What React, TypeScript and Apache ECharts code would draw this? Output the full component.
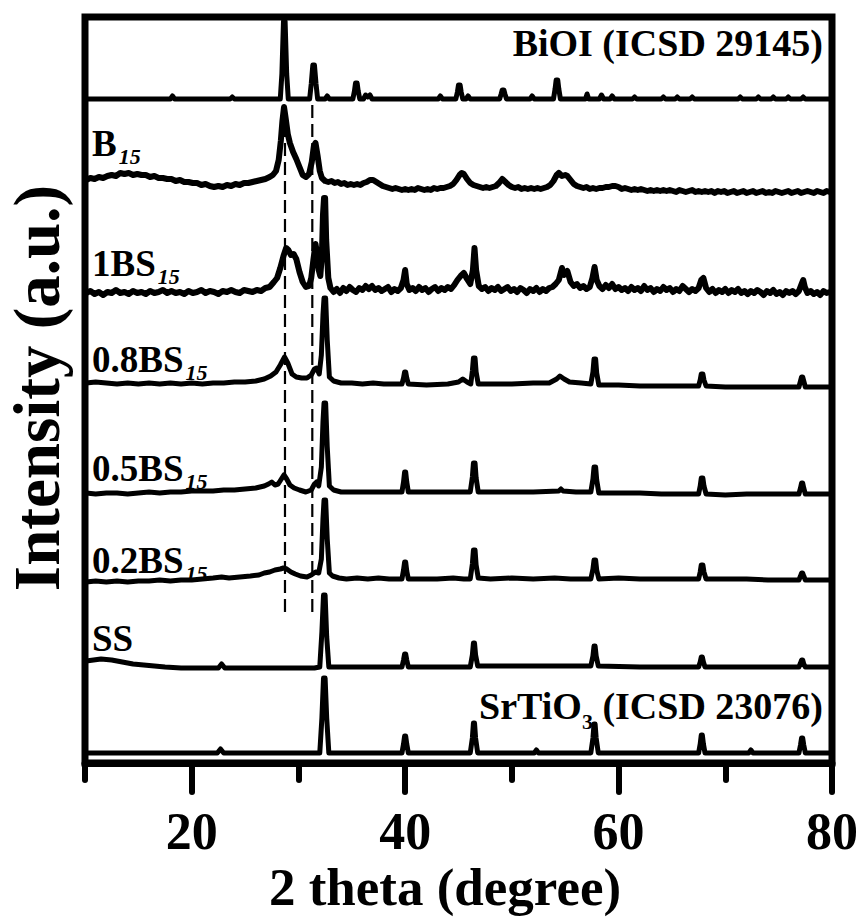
import { useEffect, useRef } from 'react';
import * as echarts from 'echarts';

// ---- axis ----
const X_MIN = 10;
const X_MAX = 80;
const MAJOR_TICKS = [20, 40, 60, 80];

// ---- stacking offsets (a.u.) of each pattern's baseline ----
const OFFSET_BIOI = 664;
const OFFSET_B15 = 577;
const OFFSET_1BS = 473;
const OFFSET_08BS = 378;
const OFFSET_05BS = 271;
const OFFSET_02BS = 184;
const OFFSET_SS = 96;
const OFFSET_SRTIO3 = 10;

// ---- patterns: [2theta, intensity relative to own baseline] ----
const BIOI_REF = [
  [10, 0], [18.0, 0], [18.2, 3], [18.4, 0], [23.6, 0], [23.8, 2], [24.0, 0],
  [28.3, 0], [28.45, 25], [28.6, 78], [28.75, 78], [28.9, 25], [29.05, 0],
  [31.05, 0], [31.2, 15], [31.35, 34], [31.5, 34], [31.65, 15], [31.8, 0],
  [32.5, 0], [32.7, 3], [32.9, 0],
  [35.1, 0], [35.25, 8], [35.35, 16], [35.5, 16], [35.6, 8], [35.75, 0],
  [36.1, 0], [36.3, 4], [36.5, 2], [36.7, 4], [36.9, 0],
  [43.1, 0], [43.3, 3], [43.5, 0],
  [44.75, 0], [44.9, 7], [45.0, 14], [45.15, 14], [45.25, 7], [45.4, 0],
  [45.7, 0], [45.9, 3], [46.1, 0],
  [48.85, 0], [49.0, 5], [49.1, 9], [49.25, 9], [49.35, 5], [49.5, 0],
  [51.7, 0], [51.9, 3], [52.1, 0],
  [53.9, 0], [54.05, 10], [54.15, 19], [54.3, 19], [54.4, 10], [54.55, 0],
  [56.9, 0], [57.05, 5], [57.2, 0], [58.2, 0], [58.4, 4], [58.6, 0],
  [59.2, 0], [59.4, 3], [59.6, 0], [61.3, 0], [61.5, 2], [61.7, 0],
  [64.0, 0], [64.2, 2], [64.4, 0], [65.3, 0], [65.5, 2], [65.7, 0],
  [66.7, 0], [66.9, 2], [67.1, 0], [71.2, 0], [71.4, 2], [71.6, 0],
  [72.9, 0], [73.1, 2], [73.3, 0], [74.3, 0], [74.5, 2], [74.7, 0],
  [75.7, 0], [75.9, 2], [76.1, 0], [77.1, 0], [77.3, 2], [77.5, 0], [80, 0],
];

const B15 = [
  [10.1, 6], [10.5, 8], [10.9, 7], [11.3, 9], [11.7, 8], [12.1, 10], [12.5, 11], [12.9, 10],
  [13.3, 13], [13.7, 12], [14.1, 13], [14.5, 11], [14.9, 12], [15.3, 11], [15.7, 11], [16.1, 9],
  [16.5, 10], [16.9, 8], [17.3, 8], [17.7, 7], [18.1, 7], [18.5, 5], [18.9, 6], [19.3, 4],
  [19.7, 4], [20.1, 3], [20.5, 3], [20.9, 1], [21.3, 2], [21.7, 0], [22.1, -1], [22.5, 0],
  [22.9, -1], [23.3, 1], [23.7, 0], [24.1, 2], [24.5, 1], [24.9, 3], [25.3, 3], [25.7, 4],
  [26.1, 5], [26.5, 6], [26.9, 7], [27.3, 9], [27.6, 11], [27.9, 15], [28.15, 26], [28.35, 45],
  [28.5, 65], [28.65, 79], [28.8, 68], [29.0, 52], [29.2, 43], [29.5, 34], [29.8, 27], [30.1, 19],
  [30.4, 11], [30.7, 9], [31.0, 12], [31.25, 24], [31.45, 40], [31.6, 43], [31.8, 30], [32.0, 15],
  [32.2, 8], [32.5, 5], [32.8, 4], [33.1, 5], [33.4, 3], [33.7, 4], [34.0, 2], [34.3, 3],
  [34.6, 1], [34.9, 2], [35.2, 1], [35.5, 2], [35.8, 1], [36.1, 3], [36.4, 4], [36.7, 6],
  [37.0, 6], [37.3, 4], [37.6, 2], [37.9, 0], [38.2, -1], [38.5, -2], [38.8, -3], [39.1, -2],
  [39.4, -3], [39.7, -4], [40.0, -3], [40.3, -4], [40.6, -3], [40.9, -4], [41.2, -2], [41.5, -3],
  [41.8, -4], [42.1, -3], [42.4, -4], [42.7, -2], [43.0, -3], [43.3, -2], [43.6, -2], [43.9, -1],
  [44.2, 0], [44.5, 2], [44.8, 6], [45.1, 11], [45.3, 13], [45.5, 12], [45.8, 7], [46.1, 3],
  [46.4, 1], [46.7, 0], [47.0, -1], [47.3, -2], [47.6, -1], [47.9, -2], [48.2, -1], [48.5, 0],
  [48.8, 3], [49.1, 7], [49.4, 4], [49.7, 1], [50.0, -1], [50.3, -2], [50.6, -1], [50.9, -3],
  [51.2, -2], [51.5, -3], [51.8, -2], [52.1, -3], [52.4, -2], [52.7, -3], [53.0, -2], [53.3, -1],
  [53.6, 1], [53.9, 5], [54.2, 11], [54.4, 13], [54.7, 10], [55.0, 11], [55.2, 10], [55.5, 6],
  [55.8, 2], [56.1, 0], [56.4, -1], [56.7, -2], [57.0, -1], [57.3, -3], [57.6, -2], [57.9, -3],
  [58.2, -2], [58.5, -2], [58.8, -1], [59.1, -1], [59.4, 0], [59.7, 0], [60.0, -1], [60.3, -3],
  [60.6, -2], [60.9, -3], [61.2, -4], [61.5, -3], [61.8, -4], [62.1, -3], [62.4, -4], [62.7, -5],
  [63.0, -4], [63.3, -5], [63.6, -4], [63.9, -5], [64.2, -4], [64.5, -5], [64.8, -4], [65.1, -5],
  [65.4, -6], [65.7, -4], [66.0, -5], [66.3, -6], [66.6, -5], [66.9, -4], [67.2, -6], [67.5, -5],
  [67.8, -6], [68.1, -5], [68.4, -6], [68.7, -5], [69.0, -7], [69.3, -5], [69.6, -6], [69.9, -5],
  [70.2, -7], [70.5, -6], [70.8, -5], [71.1, -7], [71.4, -6], [71.7, -5], [72.0, -7], [72.3, -6],
  [72.6, -5], [72.9, -7], [73.2, -6], [73.5, -5], [73.8, -7], [74.1, -6], [74.4, -7], [74.7, -5],
  [75.0, -6], [75.3, -7], [75.6, -6], [75.9, -5], [76.2, -7], [76.5, -6], [76.8, -5], [77.1, -7],
  [77.4, -6], [77.7, -5], [78.0, -6], [78.3, -7], [78.6, -5], [78.9, -6], [79.2, -7], [79.5, -5],
  [79.8, -6],
];

const BS_1 = [
  [10.1, -3], [10.5, -1], [10.9, -4], [11.3, -2], [11.7, -5], [12.1, -2], [12.5, -3], [12.9, 0],
  [13.3, -3], [13.7, -2], [14.1, -4], [14.5, -1], [14.9, -3], [15.3, -2], [15.7, -4], [16.1, -1],
  [16.5, -3], [16.9, -2], [17.3, 0], [17.7, -3], [18.1, -1], [18.5, -3], [18.9, -2], [19.3, -4],
  [19.7, -1], [20.1, -3], [20.5, -2], [20.9, 0], [21.3, -3], [21.7, -1], [22.1, -2], [22.5, -4],
  [22.9, -1], [23.3, -2], [23.7, 0], [24.1, -2], [24.5, -3], [24.9, 0], [25.3, -1], [25.7, -2],
  [26.1, 0], [26.5, -1], [26.9, 2], [27.3, 3], [27.7, 8], [28.0, 12], [28.3, 22], [28.6, 34],
  [28.85, 42], [29.05, 40], [29.3, 35], [29.55, 36], [29.8, 31], [30.1, 18], [30.4, 8], [30.7, 3],
  [31.0, 4], [31.2, 12], [31.4, 30], [31.6, 46], [31.75, 36], [31.9, 20], [32.05, 14], [32.2, 35],
  [32.3, 75], [32.4, 92], [32.5, 92], [32.6, 50], [32.8, 12], [33.0, 2], [33.3, -2], [33.6, 1],
  [33.9, -3], [34.2, 2], [34.5, -1], [34.8, 3], [35.1, 0], [35.4, -2], [35.7, 2], [36.0, 0],
  [36.3, 4], [36.6, 1], [36.9, 4], [37.2, 0], [37.5, 2], [37.8, -1], [38.1, 1], [38.4, 3],
  [38.7, -2], [39.0, 1], [39.3, -1], [39.6, 2], [39.85, 10], [40.0, 20], [40.15, 6], [40.4, 0],
  [40.7, 2], [41.0, -1], [41.3, 3], [41.6, 0], [41.9, 2], [42.2, -2], [42.5, 1], [42.8, 3],
  [43.1, -1], [43.4, 2], [43.7, 0], [44.0, 3], [44.3, 1], [44.6, 5], [44.9, 10], [45.2, 14],
  [45.5, 17], [45.8, 11], [46.1, 6], [46.35, 20], [46.5, 42], [46.65, 20], [46.9, 4], [47.2, 1],
  [47.5, 3], [47.8, -1], [48.1, 2], [48.4, 0], [48.7, 3], [49.0, -1], [49.3, 1], [49.6, 3],
  [49.9, -1], [50.2, 1], [50.5, -2], [50.8, 2], [51.1, 0], [51.4, -3], [51.7, 1], [52.0, -1],
  [52.3, 2], [52.6, -2], [52.9, 1], [53.2, -1], [53.5, 2], [53.8, 3], [54.1, 6], [54.4, 10],
  [54.7, 22], [54.9, 15], [55.2, 19], [55.5, 8], [55.8, 4], [56.1, 6], [56.4, 2], [56.7, 4],
  [57.0, 1], [57.3, 3], [57.55, 12], [57.75, 23], [57.95, 10], [58.2, 4], [58.5, 1], [58.8, 5],
  [59.1, 2], [59.4, 6], [59.7, 1], [60.0, 3], [60.3, 0], [60.6, 2], [60.9, -1], [61.2, 3],
  [61.5, 0], [61.8, 2], [62.1, -1], [62.4, 4], [62.7, 0], [63.0, 2], [63.3, -2], [63.6, 1],
  [63.9, -1], [64.2, 3], [64.5, 0], [64.8, 2], [65.1, -2], [65.4, 1], [65.7, -1], [66.0, 4],
  [66.3, 1], [66.6, -2], [66.9, 1], [67.2, -1], [67.5, 2], [67.75, 10], [67.95, 12], [68.2, 2],
  [68.5, -2], [68.8, 1], [69.1, -3], [69.4, 0], [69.7, -2], [70.0, 1], [70.3, -3], [70.6, 0],
  [70.9, -2], [71.2, 1], [71.5, -3], [71.8, -1], [72.1, -4], [72.4, -1], [72.7, -3], [73.0, 0],
  [73.3, -2], [73.6, -5], [73.9, -1], [74.2, -3], [74.5, 0], [74.8, -4], [75.1, -2], [75.4, -5],
  [75.7, -1], [76.0, -3], [76.3, -1], [76.6, -4], [76.9, -1], [77.15, 6], [77.3, 10], [77.45, 3],
  [77.7, -3], [78.0, -1], [78.3, -4], [78.6, -2], [78.9, -5], [79.2, -1], [79.5, -3], [79.8, -2],
];

const BS_08 = [
  [10.1, 2], [11, 3], [12, 2], [13, 1], [14, 2], [15, 1], [16, 2], [17, 1], [18, 2], [19, 1],
  [20, 2], [21, 1], [22, 2], [23, 2], [24, 3], [25, 3], [26, 4], [26.8, 6], [27.4, 9], [27.9, 13],
  [28.3, 20], [28.7, 28], [29.0, 22], [29.4, 11], [29.8, 8], [30.3, 7], [30.8, 7], [31.2, 10],
  [31.5, 16], [31.7, 17], [31.95, 11], [32.15, 30], [32.3, 70], [32.4, 87], [32.55, 87], [32.7, 45],
  [32.9, 8], [33.3, 4], [34, 2], [35, 2], [36, 1], [37, 2], [38, 1], [39.7, 1], [39.85, 7],
  [39.95, 13], [40.05, 13], [40.15, 7], [40.3, 1], [42, 0], [44, 1], [45, 3], [45.4, 6], [45.8, 3],
  [46.15, 1], [46.3, 14], [46.4, 27], [46.55, 27], [46.65, 13], [46.85, 1], [48, 1], [50, 1],
  [52, 2], [53.5, 2], [54.2, 6], [54.5, 9], [54.9, 6], [55.4, 3], [56.5, 2], [57.4, 1], [57.6, 13],
  [57.7, 26], [57.85, 26], [57.95, 12], [58.15, 0], [60, 0], [62, -1], [64, -1], [66, -1],
  [67.5, -1], [67.65, 5], [67.75, 11], [67.9, 11], [68.0, 5], [68.2, -1], [70, -2], [72, -2],
  [74, -2], [76.9, -2], [77.05, 4], [77.15, 8], [77.25, 8], [77.35, 4], [77.5, -2], [79, -2], [80, -2],
];

const BS_05 = [
  [10.1, -1], [11, -2], [12, -1], [13, -1], [14, -2], [15, -1], [16, 0], [17, -1], [18, 0], [19, 0],
  [20, 1], [21, 1], [22, 1], [23, 2], [24, 2], [25, 3], [26, 4], [26.8, 6], [27.2, 8], [27.5, 10],
  [27.8, 7], [28.1, 8], [28.4, 13], [28.65, 17], [28.9, 13], [29.2, 7], [29.6, 4], [30.1, 2],
  [30.7, 0], [31.2, 2], [31.5, 8], [31.7, 10], [31.9, 6], [32.15, 25], [32.3, 70], [32.4, 89],
  [32.55, 89], [32.7, 45], [32.9, 6], [33.3, 2], [34, 0], [35, 0], [36.5, 0], [38, 0], [39.7, 0],
  [39.85, 10], [39.95, 20], [40.05, 20], [40.15, 10], [40.3, 0], [42, 0], [44, 0], [45.5, 0],
  [46.1, 0], [46.3, 15], [46.4, 29], [46.55, 29], [46.65, 14], [46.85, 0], [48, 0], [50, 0], [52, 0],
  [54.4, 1], [54.6, 3], [54.8, 1], [56, 0], [57.4, 0], [57.6, 13], [57.7, 25], [57.85, 25],
  [57.95, 12], [58.15, -1], [60, -1], [62, -1], [64, -2], [66, -2], [67.5, -2], [67.65, 6],
  [67.75, 14], [67.9, 14], [68.0, 6], [68.2, -2], [70, -3], [72, -2], [74, -2], [76.9, -2],
  [77.05, 4], [77.15, 9], [77.25, 9], [77.35, 4], [77.5, -2], [79, -2], [80, -2],
];

const BS_02 = [
  [10.1, -3], [11, -2], [12, -3], [13, -2], [14, -3], [15, -2], [16, -2], [17, -1], [18, -2],
  [19, -1], [20, -1], [21, 0], [22, 1], [22.8, 2], [23.5, 1], [24.5, 2], [25.5, 3], [26.3, 4],
  [26.8, 6], [27.3, 7], [27.8, 9], [28.3, 10], [28.6, 11], [28.9, 10], [29.3, 7], [29.7, 5],
  [30.2, 3], [30.8, 2], [31.2, 4], [31.6, 7], [31.9, 6], [32.15, 20], [32.3, 60], [32.4, 79],
  [32.55, 79], [32.7, 40], [32.9, 6], [33.2, 3], [33.8, 1], [34.5, 0], [35.5, 1], [36.5, 0],
  [37.5, 1], [38.5, 0], [39.7, 0], [39.85, 9], [39.95, 17], [40.05, 17], [40.15, 8], [40.3, 0],
  [41.5, 0], [43, 0], [44.5, 1], [45.5, 0], [46.1, 0], [46.3, 15], [46.4, 29], [46.55, 29],
  [46.65, 14], [46.85, 1], [48, 0], [50, 1], [52, 0], [54, 1], [55.5, 0], [57.4, 0], [57.6, 10],
  [57.7, 19], [57.85, 19], [57.95, 9], [58.15, 0], [60, 1], [62, 0], [64, 0], [66, 0], [67.5, 0],
  [67.65, 7], [67.75, 14], [67.9, 14], [68.0, 7], [68.2, 0], [70, 0], [72, 0], [74, -1], [76.9, -1],
  [77.05, 3], [77.15, 6], [77.25, 6], [77.35, 3], [77.5, -1], [79, -1], [80, -1],
];

const SS = [
  [10.1, 6], [10.8, 7], [11.5, 8], [12.5, 7], [13.5, 5], [14.5, 3], [15.5, 2], [16.5, 1], [17.5, 0],
  [19, -1], [21, -1], [22.5, -1], [22.8, 3], [23.1, -1], [26, -1], [29, -1], [31.5, -1], [32.0, 0],
  [32.2, 35], [32.35, 72], [32.5, 72], [32.65, 30], [32.85, 0], [36, 0], [39.7, 0], [39.85, 7],
  [39.95, 13], [40.05, 13], [40.15, 7], [40.3, 0], [46.1, 0], [46.3, 12], [46.4, 24], [46.5, 24],
  [46.6, 12], [46.8, 1], [52, 1], [57.4, 1], [57.6, 11], [57.7, 21], [57.8, 21], [57.9, 11],
  [58.1, 1], [62, 0], [67.5, 0], [67.65, 5], [67.75, 10], [67.85, 10], [67.95, 5], [68.1, 0],
  [72, 0], [76.9, 0], [77.05, 4], [77.15, 7], [77.25, 7], [77.35, 3], [77.5, 0], [80, 0],
];

const SRTIO3_REF = [
  [10, 0], [22.4, 0], [22.7, 4], [23.0, 0],
  [32.0, 0], [32.2, 35], [32.35, 75], [32.5, 75], [32.65, 35], [32.85, 0],
  [39.7, 0], [39.85, 9], [39.95, 17], [40.05, 17], [40.15, 9], [40.3, 0],
  [46.1, 0], [46.3, 15], [46.4, 30], [46.5, 30], [46.6, 15], [46.8, 0],
  [52.1, 0], [52.3, 3], [52.5, 0],
  [57.4, 0], [57.6, 15], [57.7, 29], [57.8, 29], [57.9, 15], [58.1, 0],
  [67.5, 0], [67.65, 9], [67.75, 18], [67.85, 18], [67.95, 9], [68.1, 0],
  [72.2, 0], [72.4, 3], [72.6, 0],
  [76.9, 0], [77.05, 8], [77.15, 15], [77.25, 15], [77.35, 8], [77.5, 0], [80, 0],
];

// guide lines (2theta) and their vertical extent (a.u.)
const GUIDE_POSITIONS = [28.74, 31.3];
const GUIDE_RANGE = [151, 659];

const PATTERNS = [
  { name: 'BiOI (ICSD 29145)', data: BIOI_REF, offset: OFFSET_BIOI, noisy: false },
  { name: 'B15', data: B15, offset: OFFSET_B15, noisy: true },
  { name: '1BS15', data: BS_1, offset: OFFSET_1BS, noisy: true },
  { name: '0.8BS15', data: BS_08, offset: OFFSET_08BS, noisy: false },
  { name: '0.5BS15', data: BS_05, offset: OFFSET_05BS, noisy: false },
  { name: '0.2BS15', data: BS_02, offset: OFFSET_02BS, noisy: false },
  { name: 'SS', data: SS, offset: OFFSET_SS, noisy: false },
  { name: 'SrTiO3 (ICSD 23076)', data: SRTIO3_REF, offset: OFFSET_SRTIO3, noisy: false },
];

const FONT = "'Liberation Serif', 'Times New Roman', serif";

const mainStyle = { fontSize: 37, fontWeight: 'bold', fontFamily: FONT, fill: '#000', verticalAlign: 'middle' };
const subStyle = {
  fontSize: 22, fontWeight: 'bold', fontStyle: 'italic', fontFamily: FONT, fill: '#000',
  padding: [27, 0, 0, 2], verticalAlign: 'middle',
};

function sampleLabel(main: string, sub: string, x: number, y: number) {
  return {
    type: 'text',
    x,
    y,
    style: {
      text: `{m|${main}}{s|${sub}}`,
      align: 'left',
      verticalAlign: 'middle',
      rich: { m: mainStyle, s: subStyle },
    },
  };
}

export default function App() {
  const ref = useRef<HTMLDivElement>(null);

  useEffect(() => {
    if (!ref.current) return;
    const chart = echarts.init(ref.current, null, { renderer: 'svg' });

    const lineSeries = PATTERNS.map((p) => ({
      type: 'line',
      name: p.name,
      xAxisIndex: 0,
      yAxisIndex: 0,
      data: p.data.map(([x, y]) => [x, y + p.offset]),
      showSymbol: false,
      symbol: 'none',
      lineStyle: { color: '#000', width: p.noisy ? 6 : 5, join: 'round', cap: 'round' },
      z: 3,
    }));

    const guideSeries = GUIDE_POSITIONS.map((g) => ({
      type: 'line',
      xAxisIndex: 0,
      yAxisIndex: 0,
      data: [[g, GUIDE_RANGE[0]], [g, GUIDE_RANGE[1]]],
      showSymbol: false,
      symbol: 'none',
      lineStyle: { color: '#000', width: 2.2, type: [13, 6] },
      z: 2,
    }));

    chart.setOption({
      animation: false,
      grid: {
        left: 85,
        right: 31,
        top: 17,
        bottom: 158,
        show: true,
        borderColor: '#000',
        borderWidth: 7,
        backgroundColor: 'transparent',
        containLabel: false,
      },
      xAxis: [
        {
          type: 'value',
          min: X_MIN,
          max: X_MAX,
          interval: 10,
          position: 'bottom',
          axisLine: { show: true, lineStyle: { color: '#000', width: 7 } },
          axisTick: { show: true, length: 17, lineStyle: { color: '#000', width: 6, cap: 'round' } },
          splitLine: { show: false },
          axisLabel: {
            show: true,
            margin: 42,
            color: '#000',
            fontSize: 52,
            fontWeight: 'bold',
            fontFamily: FONT,
            showMinLabel: true,
            showMaxLabel: true,
            formatter: (v: number) => (MAJOR_TICKS.includes(v) ? String(v) : ''),
          },
        },
        {
          type: 'value',
          min: X_MIN,
          max: X_MAX,
          position: 'bottom',
          axisLine: { show: false },
          axisTick: {
            show: true,
            customValues: MAJOR_TICKS,
            length: 29,
            lineStyle: { color: '#000', width: 6, cap: 'round' },
          },
          axisLabel: { show: false },
          splitLine: { show: false },
        },
      ],
      yAxis: {
        type: 'value',
        min: 0,
        max: 746,
        show: false,
        splitLine: { show: false },
      },
      series: [...guideSeries, ...lineSeries],
      graphic: [
        {
          type: 'text',
          x: 823,
          y: 43,
          style: {
            text: 'BiOI (ICSD 29145)',
            fontSize: 38,
            fontWeight: 'bold',
            fontFamily: FONT,
            fill: '#000',
            align: 'right',
            verticalAlign: 'middle',
          },
        },
        sampleLabel('B', '15', 92, 143),
        sampleLabel('1BS', '15', 92, 263),
        sampleLabel('0.8BS', '15', 92, 359),
        sampleLabel('0.5BS', '15', 92, 468),
        sampleLabel('0.2BS', '15', 92, 560),
        {
          type: 'text',
          x: 92,
          y: 638,
          style: {
            text: 'SS',
            fontSize: 37,
            fontWeight: 'bold',
            fontFamily: FONT,
            fill: '#000',
            align: 'left',
            verticalAlign: 'middle',
          },
        },
        {
          type: 'text',
          x: 823,
          y: 706,
          style: {
            text: '{m|SrTiO}{s|3}{m| (ICSD 23076)}',
            align: 'right',
            verticalAlign: 'middle',
            rich: {
              m: { fontSize: 38, fontWeight: 'bold', fontFamily: FONT, fill: '#000', verticalAlign: 'middle' },
              s: {
                fontSize: 22, fontWeight: 'bold', fontFamily: FONT, fill: '#000',
                padding: [30, 0, 0, 0], verticalAlign: 'middle',
              },
            },
          },
        },
        {
          type: 'text',
          x: 445,
          y: 887,
          style: {
            text: '2 theta (degree)',
            fontSize: 53,
            fontWeight: 'bold',
            fontFamily: FONT,
            fill: '#000',
            align: 'center',
            verticalAlign: 'middle',
          },
        },
        {
          type: 'text',
          x: 37,
          y: 388,
          rotation: Math.PI / 2,
          style: {
            text: 'Intensity (a.u.)',
            fontSize: 65,
            fontWeight: 'bold',
            fontFamily: FONT,
            fill: '#000',
            align: 'center',
            verticalAlign: 'middle',
          },
        },
      ],
    });

    return () => chart.dispose();
  }, []);

  return (
    <div
      ref={ref}
      style={{ position: 'absolute', left: 0, top: 0, width: 863, height: 921 }}
    />
  );
}
